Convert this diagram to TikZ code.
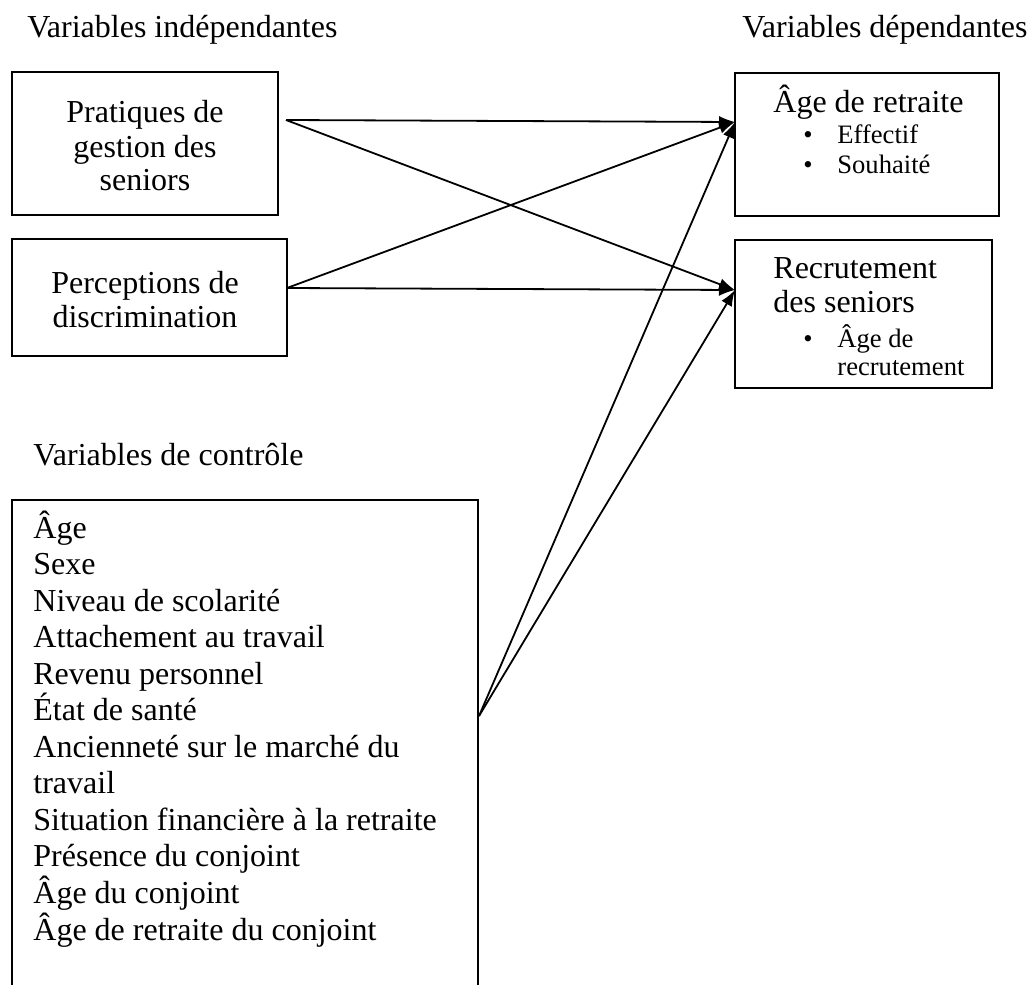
\documentclass[tikz,border=0pt]{standalone}
\usepackage{fontspec}
\setmainfont{Liberation Serif}
\usetikzlibrary{arrows.meta}
\begin{document}
\begin{tikzpicture}[x=0.5pt,y=-0.5pt,
  box/.style={draw,line width=0.9pt,inner sep=0pt},
  txt/.style={inner sep=0pt,font=\fontsize{16}{18}\selectfont},
  small/.style={inner sep=0pt,font=\fontsize{13.3}{15}\selectfont},
  conn/.style={line width=0.9pt,-{Latex[length=8pt,width=6pt]}}]
\useasboundingbox (0,0) rectangle (1034,985);
% headings
\node[txt,anchor=base west] (hind) at (27,37) {Variables indépendantes};
\node[txt,anchor=base west] (hdep) at (742,37) {Variables dépendantes};
\node[txt,anchor=base west] (hctl) at (33,465) {Variables de contrôle};
% boxes
\node[box,minimum width=133pt,minimum height=71.5pt] (b1) at (145,143.5) {};
\node[box,minimum width=137.5pt,minimum height=58.5pt] (b2) at (149.5,297.5) {};
\node[box,minimum width=132pt,minimum height=71.5pt] (b3) at (867,144.5) {};
\node[box,minimum width=128.5pt,minimum height=74pt] (b4) at (863.5,314) {};
\draw[line width=0.9pt] (12,990) -- (12,500) -- (478,500) -- (478,990);
% box texts
\node[txt,anchor=base] (p1) at (145,122) {Pratiques de};
\node[txt,anchor=base] (p2) at (145,157) {gestion des};
\node[txt,anchor=base] (p3) at (145,190) {seniors};
\node[txt,anchor=base] (q1) at (145,293) {Perceptions de};
\node[txt,anchor=base] (q2) at (145,327) {discrimination};
\node[txt,anchor=base west] (r1) at (773,112) {Âge de retraite};
\node[small,anchor=base] (r2b) at (808,143) {•};
\node[small,anchor=base west] (r2) at (837,143) {Effectif};
\node[small,anchor=base] (r3b) at (808,173) {•};
\node[small,anchor=base west] (r3) at (837,173) {Souhaité};
\node[txt,anchor=base west] (s1) at (773,278) {Recrutement};
\node[txt,anchor=base west] (s2) at (773,312) {des seniors};
\node[small,anchor=base] (s3b) at (808,347) {•};
\node[small,anchor=base west] (s3) at (837,347) {Âge de};
\node[small,anchor=base west] (s4) at (837,375) {recrutement};
% control list
\foreach \t [count=\i] in {Âge,Sexe,Niveau de scolarité,Attachement au travail,Revenu personnel,État de santé,Ancienneté sur le marché du,travail,Situation financière à la retraite,Présence du conjoint,Âge du conjoint,Âge de retraite du conjoint}
  \node[txt,anchor=base west] (c\i) at (33,{538+(\i-1)*36.55}) {\t};
% connector points
\coordinate (o1) at (286,120);
\coordinate (o2) at (287,288);
\coordinate (o3) at (479,716);
\coordinate (t3) at (735,122);
\coordinate (t4) at (735,290);
\draw[conn] (o1) -- (t3);
\draw[conn] (o1) -- (t4);
\draw[conn] (o2) -- (t3);
\draw[conn] (o2) -- (t4);
\draw[conn] (o3) -- (t3);
\draw[conn] (o3) -- (t4);
\end{tikzpicture}
\end{document}
